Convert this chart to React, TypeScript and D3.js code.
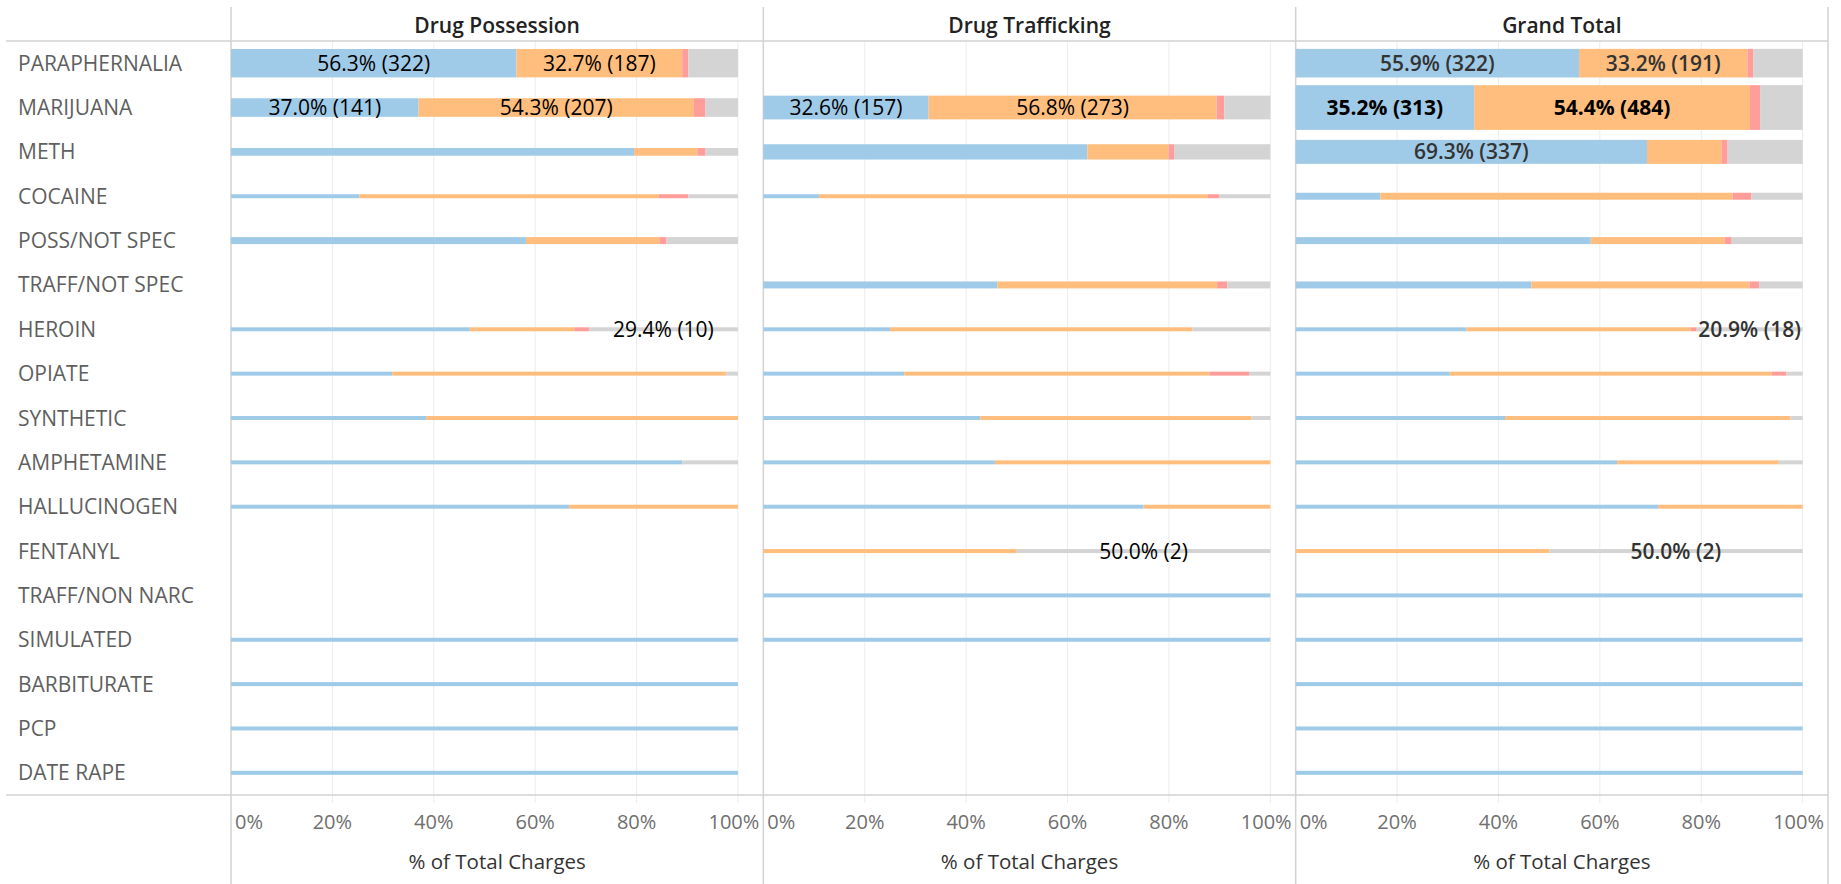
// Drug charges by type - stacked 100% bars, three panels
import React, { useEffect, useRef } from 'react';
import * as d3 from 'd3';

const WIDTH = 1841;
const HEIGHT = 884;

const drugs = [
  'PARAPHERNALIA', 'MARIJUANA', 'METH', 'COCAINE', 'POSS/NOT SPEC', 'TRAFF/NOT SPEC',
  'HEROIN', 'OPIATE', 'SYNTHETIC', 'AMPHETAMINE', 'HALLUCINOGEN', 'FENTANYL',
  'TRAFF/NON NARC', 'SIMULATED', 'BARBITURATE', 'PCP', 'DATE RAPE'
];

const panels = ['Drug Possession', 'Drug Trafficking', 'Grand Total'];

// blue, orange, pink, grey
const segmentColors = ['#A0CBE8', '#FFBE7D', '#FF9D9A', '#D4D4D4'];

const ticks = [0, 0.2, 0.4, 0.6, 0.8, 1];

// % shares per drug (null = no charges in that panel)
const possessionShares: (number[] | null)[] = [
  [56.3, 32.7, 1.2, 9.8],
  [37.0, 54.3, 2.3, 6.4],
  [79.5, 12.5, 1.6, 6.4],
  [25.3, 59.1, 5.8, 9.8],
  [58.2, 26.3, 1.4, 14.1],
  null,
  [47.1, 20.6, 2.9, 29.4],
  [31.8, 65.9, 0, 2.3],
  [38.5, 61.5, 0, 0],
  [89.0, 0, 0, 11.0],
  [66.7, 33.3, 0, 0],
  null,
  null,
  [100, 0, 0, 0],
  [100, 0, 0, 0],
  [100, 0, 0, 0],
  [100, 0, 0, 0]
];
const possessionTotals = [572, 381, 169, 62, 155, 0, 34, 44, 13, 9, 6, 0, 0, 1, 1, 1, 1];

const traffickingShares: (number[] | null)[] = [
  null,
  [32.6, 56.8, 1.5, 9.1],
  [63.9, 16.0, 1.1, 19.0],
  [11.0, 76.6, 2.3, 10.1],
  null,
  [46.2, 43.3, 2.0, 8.5],
  [25.0, 59.6, 0, 15.4],
  [27.8, 60.2, 7.8, 4.2],
  [42.8, 53.5, 0, 3.7],
  [45.7, 54.3, 0, 0],
  [75.0, 25.0, 0, 0],
  [0, 50.0, 0, 50.0],
  [100, 0, 0, 0],
  [100, 0, 0, 0],
  null,
  null,
  null
];
const traffickingTotals = [0, 481, 317, 93, 0, 155, 52, 36, 27, 35, 4, 4, 1, 1, 0, 0, 0];

const totalShares: (number[] | null)[] = [
  [55.9, 33.2, 1.2, 9.7],
  [35.2, 54.4, 2.0, 8.4],
  [69.3, 14.7, 1.2, 14.8],
  [16.7, 69.5, 3.7, 10.1],
  [58.2, 26.4, 1.4, 14.0],
  [46.5, 43.0, 1.9, 8.6],
  [33.7, 44.2, 1.2, 20.9],
  [30.4, 63.5, 2.9, 3.2],
  [41.3, 56.3, 0, 2.4],
  [63.4, 31.9, 0, 4.7],
  [71.5, 28.5, 0, 0],
  [0, 50.0, 0, 50.0],
  [100, 0, 0, 0],
  [100, 0, 0, 0],
  [100, 0, 0, 0],
  [100, 0, 0, 0],
  [100, 0, 0, 0]
];
const totalTotals = [576, 889, 486, 155, 155, 155, 86, 80, 40, 44, 10, 4, 1, 2, 1, 1, 1];

// segment labels shown: panel index, drug, segment index
const segmentLabels = [
  { panel: 0, drug: 'PARAPHERNALIA', seg: 0 },
  { panel: 0, drug: 'PARAPHERNALIA', seg: 1 },
  { panel: 0, drug: 'MARIJUANA', seg: 0 },
  { panel: 0, drug: 'MARIJUANA', seg: 1 },
  { panel: 0, drug: 'HEROIN', seg: 3 },
  { panel: 1, drug: 'MARIJUANA', seg: 0 },
  { panel: 1, drug: 'MARIJUANA', seg: 1 },
  { panel: 1, drug: 'FENTANYL', seg: 3 },
  { panel: 2, drug: 'PARAPHERNALIA', seg: 0 },
  { panel: 2, drug: 'PARAPHERNALIA', seg: 1 },
  { panel: 2, drug: 'MARIJUANA', seg: 0 },
  { panel: 2, drug: 'MARIJUANA', seg: 1 },
  { panel: 2, drug: 'METH', seg: 0 },
  { panel: 2, drug: 'HEROIN', seg: 3 },
  { panel: 2, drug: 'FENTANYL', seg: 3 }
];

const FONT = '"Open Sans", "DejaVu Sans", sans-serif';

export default function App() {
  const svgRef = useRef<SVGSVGElement>(null);

  useEffect(() => {
    if (!svgRef.current) return;
    const svg = d3.select(svgRef.current);
    svg.selectAll('*').remove();

    const shares = [possessionShares, traffickingShares, totalShares];
    const totals = [possessionTotals, traffickingTotals, totalTotals];

    const top = 41;
    const bottom = 795;
    const panelStart = 231;
    const panelEnd = 1828;

    const y = d3.scaleBand<string>().domain(drugs).range([top, bottom]);
    const px = d3.scaleBand<string>().domain(panels).range([panelStart, panelEnd]);
    const x = d3.scaleLinear().domain([0, 1.05]).range([0, px.bandwidth()]);
    // bar thickness follows the number of charges (with a minimum)
    const thick = d3.scaleLinear().domain([97, 889]).range([4, 44.7]);
    const barH = (n: number) => Math.max(4, thick(n));

    svg.append('rect').attr('width', WIDTH).attr('height', HEIGHT).attr('fill', '#fff');

    // gridlines + tick marks
    panels.forEach(p => {
      const x0 = px(p)!;
      ticks.slice(1).forEach(t => {
        svg.append('line')
          .attr('x1', x0 + x(t)).attr('x2', x0 + x(t))
          .attr('y1', top).attr('y2', bottom + 8)
          .attr('stroke', '#ececec').attr('stroke-width', 1);
      });
    });

    // frame lines
    const lineColor = '#d2d2d2';
    [top, bottom].forEach(yy => {
      svg.append('line')
        .attr('x1', 6).attr('x2', panelEnd)
        .attr('y1', yy).attr('y2', yy)
        .attr('stroke', lineColor).attr('stroke-width', 1.5);
    });
    [panelStart, ...panels.slice(1).map(p => px(p)!), panelEnd].forEach(xx => {
      svg.append('line')
        .attr('x1', xx).attr('x2', xx)
        .attr('y1', 7).attr('y2', HEIGHT)
        .attr('stroke', lineColor).attr('stroke-width', 1.5);
    });

    // row labels
    svg.append('g').selectAll('text')
      .data(drugs)
      .enter()
      .append('text')
      .attr('x', 18)
      .attr('y', d => y(d)! + y.bandwidth() / 2 + 7.5)
      .attr('font-family', FONT)
      .attr('font-size', '21px')
      .attr('fill', '#5f5f5f')
      .text(d => d);

    panels.forEach((p, pi) => {
      const x0 = px(p)!;
      const g = svg.append('g').attr('transform', `translate(${x0},0)`);

      // header
      g.append('text')
        .attr('x', px.bandwidth() / 2)
        .attr('y', 33)
        .attr('text-anchor', 'middle')
        .attr('font-family', FONT)
        .attr('font-size', '21px')
        .attr('font-weight', 600)
        .attr('fill', '#222')
        .text(p);

      // bars
      drugs.forEach((d, di) => {
        const row = shares[pi][di];
        if (!row) return;
        const h = barH(totals[pi][di]);
        const cy = y(d)! + y.bandwidth() / 2;
        let acc = 0;
        row.forEach((v, si) => {
          if (v > 0) {
            g.append('rect')
              .attr('x', x(acc / 100))
              .attr('width', x(v / 100) - x(0))
              .attr('y', cy - h / 2)
              .attr('height', h)
              .attr('fill', segmentColors[si]);
          }
          acc += v;
        });
      });

      // segment labels
      segmentLabels.filter(l => l.panel === pi).forEach(l => {
        const di = drugs.indexOf(l.drug);
        const row = shares[pi][di]!;
        const start = d3.sum(row.slice(0, l.seg));
        const v = row[l.seg];
        const n = Math.round(v / 100 * totals[pi][di]);
        const isTotal = pi === 2;
        g.append('text')
          .attr('x', x((start + v / 2) / 100))
          .attr('y', y(l.drug)! + y.bandwidth() / 2 + 7.5)
          .attr('text-anchor', 'middle')
          .attr('font-family', FONT)
          .attr('font-size', '21px')
          .attr('font-weight', isTotal ? (l.drug === 'MARIJUANA' ? 700 : 600) : 400)
          .attr('fill', isTotal && l.drug !== 'MARIJUANA' ? '#333' : '#000')
          .text(`${v.toFixed(1)}% (${n})`);
      });

      // tick labels
      ticks.forEach((t, ti) => {
        const isFirst = ti === 0;
        const isLast = ti === ticks.length - 1;
        g.append('text')
          .attr('x', isFirst ? 4 : isLast ? px.bandwidth() - 4 : x(t))
          .attr('y', 829)
          .attr('text-anchor', isFirst ? 'start' : isLast ? 'end' : 'middle')
          .attr('font-family', FONT)
          .attr('font-size', '20px')
          .attr('fill', '#6f6f6f')
          .text(d3.format('.0%')(t));
      });

      // axis title
      g.append('text')
        .attr('x', px.bandwidth() / 2)
        .attr('y', 869)
        .attr('text-anchor', 'middle')
        .attr('font-family', FONT)
        .attr('font-size', '20.5px')
        .attr('fill', '#333')
        .text('% of Total Charges');
    });
  }, []);

  return (
    <svg
      ref={svgRef}
      width={WIDTH}
      height={HEIGHT}
      style={{ position: 'absolute', left: 0, top: 0, display: 'block' }}
    />
  );
}
